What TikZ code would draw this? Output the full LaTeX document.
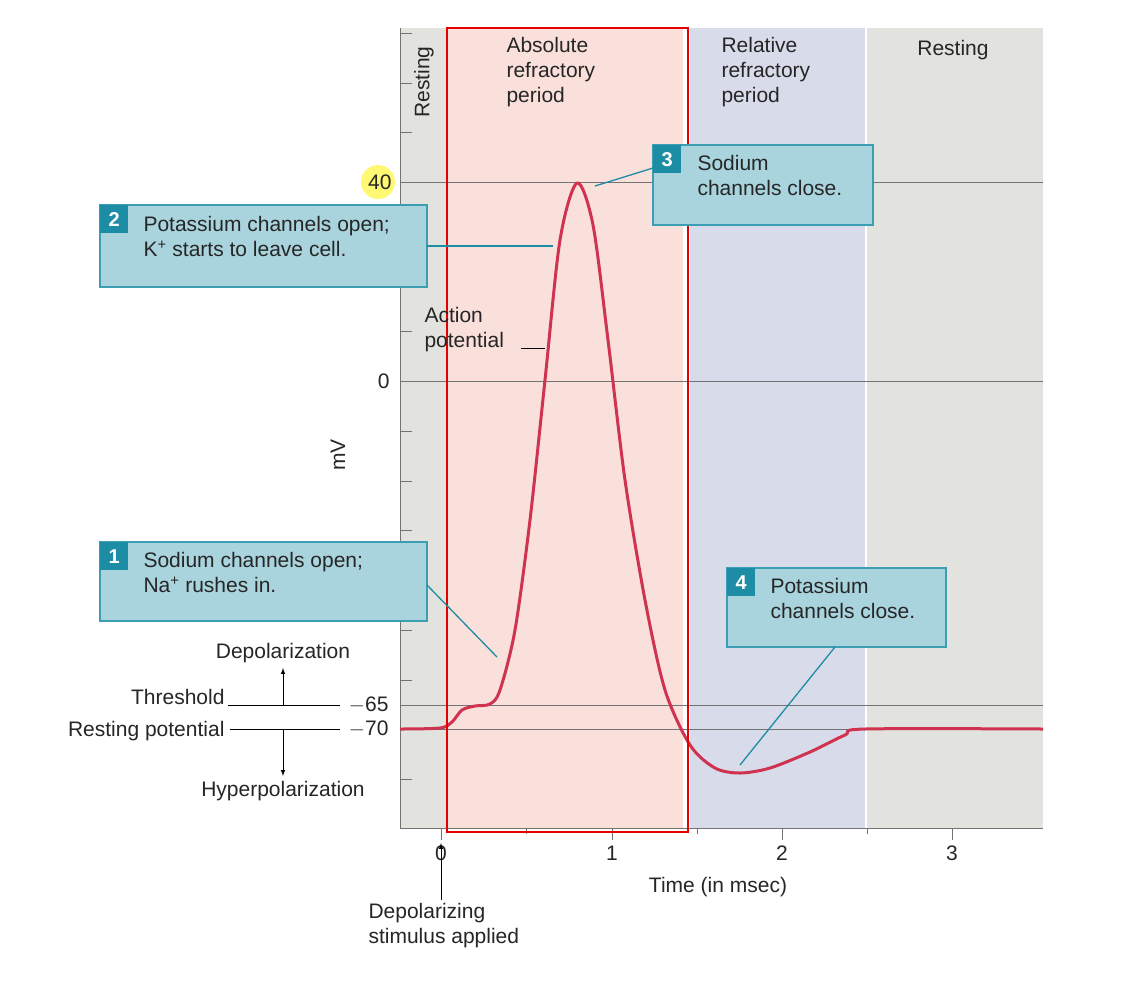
\documentclass[tikz,border=0pt]{standalone}
\usepackage{fontspec}
\setmainfont{Liberation Sans}
\begin{document}
\begin{tikzpicture}[x=1pt,y=-1pt,
  lab/.style={font=\fontsize{21}{25}\selectfont, text=black!85},
  callout/.style={fill=boxfill, draw=boxedge, line width=1.2pt},
  numbox/.style={fill=numfill, text=white, font=\fontsize{20}{22}\selectfont\bfseries, minimum size=28pt, inner sep=0pt},
  leader/.style={draw=numfill, line width=1.3pt},
  grid/.style={draw=black!55, line width=1pt}]
\definecolor{boxfill}{HTML}{A9D4DE}
\definecolor{boxedge}{HTML}{3C9EB2}
\definecolor{numfill}{HTML}{1C8DA4}
\definecolor{grayb}{HTML}{E2E3DE}
\definecolor{pinkb}{HTML}{FAE0DB}
\definecolor{blueb}{HTML}{D8DBEA}
\definecolor{curve}{HTML}{CF3350}
\useasboundingbox (0,0) rectangle (1135,997);
\fill[white] (0,0) rectangle (1135,997);
% regions
\fill[grayb] (400,28) rectangle (447,828);
\fill[pinkb] (447,28) rectangle (683,828);
\fill[blueb] (690,28) rectangle (865,828);
\fill[grayb] (867,28) rectangle (1043,828);
% horizontal lines
\foreach \yy in {182,381,705,729} \draw[grid] (400,\yy) -- (1043,\yy);
% axis
\draw[grid] (400,28) -- (400,828) -- (1043,828);
\foreach \yy in {33,83,132,182,232,282,331,381,431,481,530,580,630,680,729,779} \draw[grid] (400,\yy) -- (412,\yy);
\foreach \xx in {441,612,782,952} \draw[grid] (\xx,828) -- (\xx,840);
\foreach \xx in {526,697,867} \draw[grid] (\xx,828) -- (\xx,834);
% tick labels
\fill[yellow!55] (378,182) circle (17pt);
\node[lab,anchor=east] (y40) at (395,182) {40};
\node[lab,anchor=east] (y0) at (393,381) {0};
\node[lab,anchor=east] (y65) at (392,705) {$-$65};
\node[lab,anchor=east] (y70) at (392,729) {$-$70};
\node[lab,rotate=90] (mv) at (338,455) {mV};
\node[lab] (t0) at (441,853) {0};
\node[lab] (t1) at (612,853) {1};
\node[lab] (t2) at (782,853) {2};
\node[lab] (t3) at (952,853) {3};
\node[lab] (tl) at (718,887) {Time (in msec)};
% region headers
\node[lab,rotate=90] (rest1) at (424,82) {Resting};
\node[lab,align=left,anchor=north west] (abs) at (503,34) {Absolute\\refractory\\period};
\node[lab,align=left,anchor=north west] (rel) at (718,34) {Relative\\refractory\\period};
\node[lab] (rest2) at (953,50) {Resting};
% curve
\draw[curve, line width=3pt, line join=round] plot[smooth, tension=0.5] coordinates {
(400,729) (440,728) (452,722) (462,710) (475,706) (490,704) (500,690) (515,630) (530,520) (545,380) (560,240) (577,183) (593,225) (608,340) (625,480) (645,600) (665,690) (690,745) (715,768) (740,773) (770,768) (810,752) (845,735) (865,729) (1043,729)};
\coordinate (c2) at (553,246);
\coordinate (c3) at (595,186);
\coordinate (c1) at (497,657);
\coordinate (c4) at (740,765);
% red rectangle
\draw[red!90!black, line width=2.5pt] (447,28) rectangle (688,832);
% callouts
\fill[callout] (100,205) rectangle (427,287);
\node[numbox,anchor=north west] (n2) at (100,205) {2};
\node[lab,align=left,anchor=north west] (b2) at (140,213) {Potassium channels open;\\K\textsuperscript{+} starts to leave cell.};
\coordinate (e2) at (427,246);
\draw[leader] (e2) -- (c2);
\fill[callout] (653,145) rectangle (873,225);
\node[numbox,anchor=north west] (n3) at (653,145) {3};
\node[lab,align=left,anchor=north west] (b3) at (694,152) {Sodium\\channels close.};
\coordinate (e3) at (653,168);
\draw[leader] (e3) -- (c3);
\fill[callout] (100,542) rectangle (427,621);
\node[numbox,anchor=north west] (n1) at (100,542) {1};
\node[lab,align=left,anchor=north west] (b1) at (140,549) {Sodium channels open;\\Na\textsuperscript{+} rushes in.};
\coordinate (e1) at (427,585);
\draw[leader] (e1) -- (c1);
\fill[callout] (727,568) rectangle (946,647);
\node[numbox,anchor=north west] (n4) at (727,568) {4};
\node[lab,align=left,anchor=north west] (b4) at (767,575) {Potassium\\channels close.};
\coordinate (e4) at (835,647);
\draw[leader] (e4) -- (c4);
% action potential
\node[lab,align=left,anchor=north west] (ap) at (421,304) {Action\\potential};
\coordinate (apd) at (545,348);
\draw[line width=1pt] (521,348) -- (apd);
% left labels
\node[lab] (dep) at (283,653) {Depolarization};
\node[lab,anchor=east] (thr) at (228,697) {Threshold};
\node[lab,anchor=east] (rp) at (228,731) {Resting potential};
\node[lab] (hyp) at (283,791) {Hyperpolarization};
\coordinate (thl) at (228,705); \coordinate (thr2) at (340,705);
\coordinate (rpl) at (230,729); \coordinate (rpr) at (340,729);
\draw[line width=1pt] (thl) -- (thr2);
\draw[line width=1pt] (rpl) -- (rpr);
\draw[-latex, line width=1pt] (283,705) -- (283,668);
\draw[-latex, line width=1pt] (283,729) -- (283,776);
% stimulus
\node[lab,align=left,anchor=north west] (stim) at (365,900) {Depolarizing\\stimulus applied};
\coordinate (sa) at (441,843);
\draw[-latex, line width=1pt] (441,900) -- (sa);
\end{tikzpicture}
\end{document}
